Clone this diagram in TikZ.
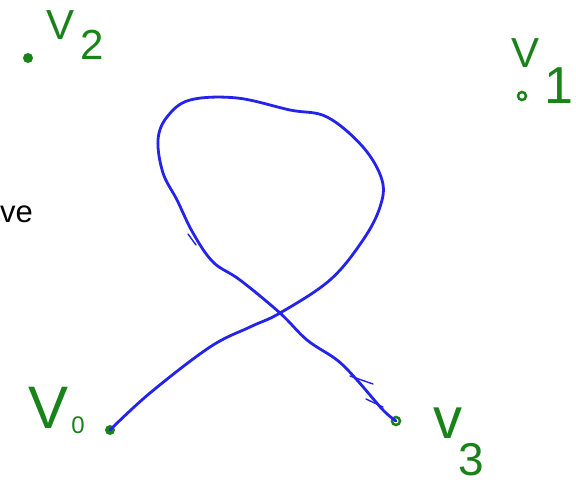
\documentclass[tikz,border=0pt]{standalone}
\usepackage{fontspec}
\setmainfont{Liberation Sans}
\usetikzlibrary{positioning}
\definecolor{inkgreen}{RGB}{25,130,25}
\definecolor{inkblue}{RGB}{35,35,235}

\begin{document}
\begin{tikzpicture}[
    x=1pt, y=-1pt,
    vtx/.style={circle, fill=inkgreen, inner sep=0pt, minimum size=10pt},
    hvtx/.style={circle, draw=inkgreen, line width=2.5pt, inner sep=0pt, minimum size=8pt},
    vlbl/.style={text=inkgreen, font=\fontsize{42}{42}\selectfont, inner sep=0pt},
    vidx/.style={text=inkgreen, font=\fontsize{42}{42}\selectfont, inner sep=0pt},
    curve/.style={inkblue, line width=2.8pt, line cap=round, line join=round},
    scrib/.style={inkblue, line width=1.4pt, line cap=round},
    note/.style={font=\fontsize{31}{31}\selectfont, inner sep=0pt, anchor=east}
]
\useasboundingbox (0,0) rectangle (576,486);

% === Vertices ===
\node[vtx] (v2) at (28,58) {};
\node[hvtx] (v1) at (522,96) {};
\node[vtx] (v0) at (110,430) {};
\node[hvtx] (v3) at (396,421) {};

% === Vertex labels ===
\node[vlbl] (v2let) at (61,25) {V};
\node[vidx] (v2idx) at (92,45) {2};
\node[vlbl] (v1let) at (526,53) {V};
\node[vidx, font=\fontsize{52}{52}\selectfont] (v1idx) at (559,86) {1};
\node[vlbl, font=\fontsize{60}{60}\selectfont] (v0let) at (49,408) {V};
\node[vidx, font=\fontsize{24}{24}\selectfont] (v0idx) at (78,425) {0};
\node[vlbl, font=\fontsize{58}{58}\selectfont] (v3let) at (448,423) {v};
\node[vidx, font=\fontsize{46}{46}\selectfont] (v3idx) at (471,460) {3};

% === Cut-off text ===
\node[note] (cut) at (33,214) {ve};

% === Curve from v0 to v3 ===
\draw[curve] plot[smooth, tension=0.6] coordinates {(v0) (150,393) (210,347) (250,327) (280,313)
    (330,280) (363,240) (380,207) (382,180) (363,147) (327,117) (290,110) (237,98) (190,100)
    (167,117) (158,140) (163,173) (177,200) (193,233) (213,262) (240,280) (280,313) (307,340)
    (337,360) (357,380) (383,410) (v3)};

% pen scribbles
\draw[scrib] (188,234) -- (196,245);
\draw[scrib] (350,376) -- (373,384);
\draw[scrib] (366,399) -- (383,407);

\end{tikzpicture}
\end{document}
